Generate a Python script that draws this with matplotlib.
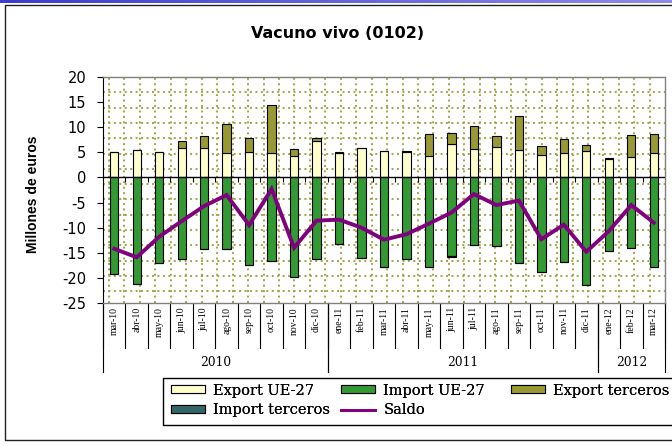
import numpy as np
import matplotlib
matplotlib.use("Agg")
import matplotlib.pyplot as plt
from matplotlib.patches import Rectangle, Patch
from matplotlib.lines import Line2D
from matplotlib.colors import LinearSegmentedColormap
import matplotlib.transforms as mtransforms

months = ['mar-10', 'abr-10', 'may-10', 'jun-10', 'jul-10', 'ago-10', 'sep-10', 'oct-10',
          'nov-10', 'dic-10', 'ene-11', 'feb-11', 'mar-11', 'abr-11', 'may-11', 'jun-11',
          'jul-11', 'ago-11', 'sep-11', 'oct-11', 'nov-11', 'dic-11', 'ene-12', 'feb-12', 'mar-12']
years = ['2010', '2011', '2012']

export_ue = [5.0, 5.5, 5.0, 5.8, 5.9, 4.8, 5.0, 4.8, 4.3, 7.2, 4.9, 5.9, 5.3, 5.1, 4.3, 6.7,
             5.6, 6.1, 5.5, 4.4, 4.8, 5.2, 3.6, 4.1, 4.9]
export_terceros = [0.0, 0.0, 0.0, 1.5, 2.4, 5.9, 2.9, 9.6, 1.3, 0.7, 0.1, 0.0, 0.0, 0.1, 4.4, 2.2,
                   4.7, 2.2, 6.8, 1.8, 2.9, 1.3, 0.2, 4.4, 3.8]
import_ue = [-19.2, -21.2, -17.0, -16.3, -14.3, -14.3, -17.4, -16.7, -19.8, -16.3, -13.2, -16.0,
             -17.8, -16.3, -17.8, -15.6, -13.4, -13.7, -17.0, -18.8, -16.8, -21.5, -14.6, -14.1, -17.8]
import_terceros = [0.0, 0.0, 0.0, 0.0, 0.0, 0.0, 0.0, 0.0, 0.0, 0.0, 0.0, 0.0, 0.0, 0.0, 0.0, -0.2,
                   0.0, 0.0, 0.0, 0.0, 0.0, 0.0, 0.0, 0.0, 0.0]
saldo = [-14.2, -15.9, -11.8, -8.7, -5.7, -3.5, -9.5, -2.3, -14.0, -8.6, -8.4, -10.0, -12.4, -11.3,
         -9.2, -7.0, -3.3, -5.5, -4.6, -12.3, -9.4, -14.8, -10.7, -5.5, -9.0]

yticks = [20, 15, 10, 5, 0, -5, -10, -15, -20, -25]

C_EXP_UE = '#FFFFCC'
C_IMP_UE = '#339933'
C_EXP_T = '#999933'
C_IMP_T = '#336666'
C_SALDO = '#800080'
C_DOT = '#A3A345'

W, H = 672, 446
fig = plt.figure(figsize=(W / 100, H / 100), dpi=100)
fig.patch.set_facecolor('white')

# top gradient strip
gax = fig.add_axes([0, 1 - 3.5 / H, 1, 3.5 / H])
grad = np.linspace(0, 1, 256)[None, :]
cmap = LinearSegmentedColormap.from_list('g', ['#3c3cc8', '#8c8ce6'])
gax.imshow(grad, aspect='auto', cmap=cmap, extent=[0, 1, 0, 1])
gax.axis('off')

# outer frame
fig.patches.append(Rectangle((5 / W, 1 - 440 / H), 700 / W, 435 / H, transform=fig.transFigure,
                             fill=False, edgecolor='#202020', lw=1.0, zorder=0))

L, R, T, B = 103, 665, 77, 303
ax = fig.add_axes([L / W, 1 - B / H, (R - L) / W, (B - T) / H])
ax.set_facecolor('white')

n = len(months)
x = np.arange(n)
ax.set_xlim(-0.5, n - 0.5)
ax.set_ylim(-25, 20)

# pattern background (dotted grid)
for k in range(1, 15):
    yf = 1 - (15.3 * k) / (B - T)
    if 0 < yf < 1:
        ax.axhline(y=-25 + yf * 45, color=C_DOT, lw=1.4, ls=(0, (1, 1.8)), zorder=0.5)
k = 0
while True:
    px = 6 + 15.45 * k
    if px >= (R - L):
        break
    ax.axvline(-0.5 + px / (R - L) * n, color=C_DOT, lw=1.4, ls=(0, (1, 1.8)), zorder=0.5)
    k += 1

bw = 0.37
ekw = dict(edgecolor='black', linewidth=0.8, zorder=2)
ax.bar(x, export_ue, bw, color=C_EXP_UE, **ekw)
ax.bar(x, export_terceros, bw, bottom=export_ue, color=C_EXP_T, **ekw)
ax.bar(x, import_ue, bw, color=C_IMP_UE, **ekw)
ax.bar(x, import_terceros, bw, bottom=import_ue, color=C_IMP_T, **ekw)
ax.plot(x, saldo, color=C_SALDO, lw=2.8, zorder=4, solid_joinstyle='miter')

# zero axis with ticks at boundaries
ax.axhline(0, color='black', lw=1.0, zorder=3)
bounds = np.arange(n + 1) - 0.5
ax.vlines(bounds[1:-1], -0.9, 0, color='black', lw=0.8, zorder=3)

# spines
for s in ['top', 'right', 'bottom']:
    ax.spines[s].set_color('#808080')
    ax.spines[s].set_linewidth(1.0)
ax.spines['left'].set_color('black')

ax.set_yticks(yticks)
ax.set_yticklabels([str(v) for v in yticks], fontsize=10.5, family='DejaVu Sans')
ax.tick_params(axis='y', direction='out', length=4, width=0.8, pad=8)

ax.set_xticks(x)
ax.set_xticklabels(months, rotation=90, fontsize=7, family='Liberation Serif')
ax.tick_params(axis='x', length=0, pad=3)

# month separators and year groups
btrans = mtransforms.blended_transform_factory(ax.transData, ax.transAxes)
for b in bounds:
    ax.plot([b, b], [0, -45 / (B - T)], color='black', lw=0.8, transform=btrans, clip_on=False)
yr_of = ['20' + m.split('-')[1] for m in months]
for yv in years:
    idx = [i for i, yy in enumerate(yr_of) if yy == yv]
    lo, hi = idx[0] - 0.5, idx[-1] + 0.5
    for b in (lo, hi):
        ax.plot([b, b], [0, -69 / (B - T)], color='black', lw=0.8, transform=btrans, clip_on=False)
    ax.text((lo + hi) / 2, -60 / (B - T), yv, transform=btrans, ha='center', va='center',
            fontsize=8.8, family='DejaVu Serif')

# titles
fig.text(338 / W, 1 - 33 / H, 'Vacuno vivo (0102)', ha='center', va='center', fontsize=11.5,
         fontweight='bold', family='DejaVu Sans')
fig.text(33 / W, 1 - 194 / H, 'Millones de euros', ha='center', va='center', rotation=90,
         fontsize=10, fontweight='bold', family='Liberation Sans')

# legend
fig.patches.append(Rectangle((163 / W, 1 - 425 / H), 600 / W, 47 / H, transform=fig.transFigure,
                             fill=False, edgecolor='black', lw=1.0, zorder=1))
h_exp_ue = Patch(facecolor=C_EXP_UE, edgecolor='black', lw=0.8)
h_imp_ue = Patch(facecolor=C_IMP_UE, edgecolor='black', lw=0.8)
h_exp_t = Patch(facecolor=C_EXP_T, edgecolor='black', lw=0.8)
h_imp_t = Patch(facecolor=C_IMP_T, edgecolor='black', lw=0.8)
h_saldo = Line2D([], [], color=C_SALDO, lw=2)
cols = [([h_exp_ue, h_imp_t], ['Export UE-27', 'Import terceros'], 171),
        ([h_imp_ue, h_saldo], ['Import UE-27', 'Saldo'], 341),
        ([h_exp_t], ['Export terceros'], 511)]
for hs, ls, px in cols:
    lg = fig.legend(hs, ls, loc='upper left', bbox_to_anchor=(px / W, 1 - 383.5 / H),
                    bbox_transform=fig.transFigure, frameon=False, borderpad=0, borderaxespad=0,
                    handlelength=2.3, handleheight=0.45, handletextpad=0.6, labelspacing=0.4,
                    prop={'family': 'DejaVu Serif', 'size': 10.5})
    fig.add_artist(lg)

fig.savefig('out.png', dpi=100)
